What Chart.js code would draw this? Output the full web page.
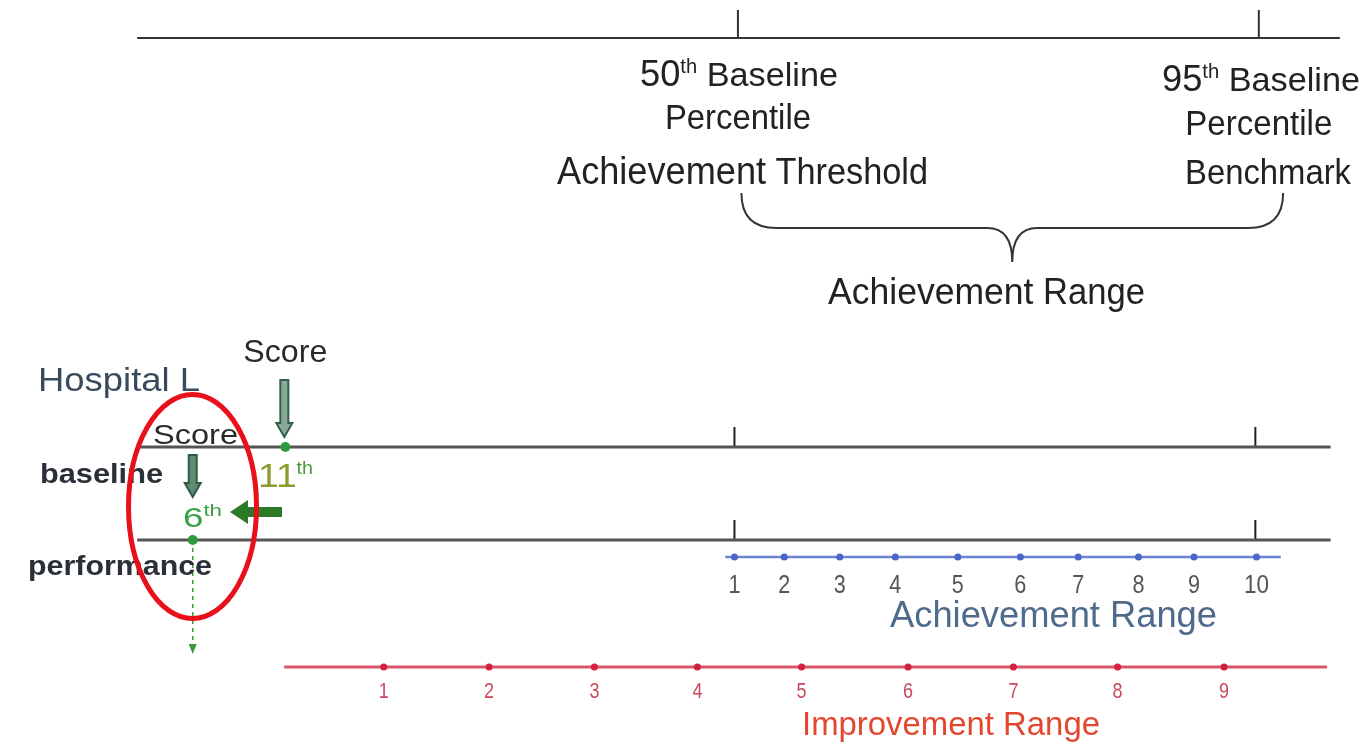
<!DOCTYPE html>
<html lang="en">
<head>
  <meta charset="UTF-8">
  <title>Achievement and Improvement Range</title>
  <script src="https://cdn.jsdelivr.net/npm/chart.js"></script>
  <style>
    body { margin: 0; background: #fff; }
    canvas { display: block; }
  </style>
</head>
<body>
  <canvas id="diagram" width="1363" height="745"></canvas>

  <script>
    // values (x axis in baseline percentiles)
    const thresholds = [50, 95];
    const lowerTicks = [49.7, 94.7];
    const axisSpan = [-1.9, 102];
    const rowSpan = [-1.9, 101.2];
    const achievementLabels = ['1', '2', '3', '4', '5', '6', '7', '8', '9', '10'];
    const achievementPos = [49.7, 54.0, 58.8, 63.6, 69.0, 74.4, 79.4, 84.6, 89.4, 94.8];
    const achievementSpan = [48.9, 96.9];
    const improvementLabels = ['1', '2', '3', '4', '5', '6', '7', '8', '9'];
    const improvementPos = [19.4, 28.5, 37.6, 46.5, 55.5, 64.7, 73.8, 82.8, 92.0];
    const improvementSpan = [10.8, 100.9];
    const baselineScore = { label: '11', pos: 10.9 };
    const performanceScore = { label: '6', pos: 2.9 };

    // layout rows (vertical position in canvas units)
    const ROW = { tickTop: 10, top: 38, baseline: 447, performance: 540, lowerTick: 20,
                  achievement: 557, improvement: 667, dashEnd: 650 };
    const FONT = '"Liberation Sans", Arial, sans-serif';

    const seg = (x0, x1, y0, y1, color, width, extra) => Object.assign({
      data: [{ x: x0, y: y0 }, { x: x1, y: y1 }],
      showLine: true, borderColor: color, borderWidth: width,
      pointRadius: 0, order: 5
    }, extra || {});

    const datasets = [
      seg(axisSpan[0], axisSpan[1], ROW.top, ROW.top, '#333', 2),
      ...thresholds.map(t => seg(t, t, ROW.tickTop, ROW.top, '#333', 2)),
      seg(rowSpan[0], rowSpan[1], ROW.baseline, ROW.baseline, '#555', 3),
      seg(rowSpan[0], rowSpan[1], ROW.performance, ROW.performance, '#555', 3),
      ...lowerTicks.map(t => seg(t, t, ROW.baseline - ROW.lowerTick, ROW.baseline, '#222', 2)),
      ...lowerTicks.map(t => seg(t, t, ROW.performance - ROW.lowerTick, ROW.performance, '#222', 2)),
      seg(achievementSpan[0], achievementSpan[1], ROW.achievement, ROW.achievement, '#6a84d4', 2.5),
      seg(improvementSpan[0], improvementSpan[1], ROW.improvement, ROW.improvement, '#d9566a', 3),
      seg(performanceScore.pos, performanceScore.pos, ROW.performance, ROW.dashEnd, '#3a9a3a', 1.5,
          { borderDash: [4, 4] }),
      {
        data: achievementPos.map(p => ({ x: p, y: ROW.achievement })),
        pointRadius: 3.5, pointBackgroundColor: '#4a66c8', pointBorderWidth: 0, order: 1
      },
      {
        data: improvementPos.map(p => ({ x: p, y: ROW.improvement })),
        pointRadius: 3.5, pointBackgroundColor: '#d4203c', pointBorderWidth: 0, order: 1
      },
      {
        data: [{ x: baselineScore.pos, y: ROW.baseline }, { x: performanceScore.pos, y: ROW.performance }],
        pointRadius: 5, pointBackgroundColor: '#2e9a3e', pointBorderWidth: 0, order: 1
      }
    ];

    // text drawn in parts so superscripts can be placed, squeezed to a given width
    function rich(ctx, parts, x, y, width, align) {
      let total = 0;
      parts.forEach(p => {
        ctx.font = (p.bold ? 'bold ' : '') + p.size + 'px ' + FONT;
        p.w = ctx.measureText(p.t).width;
        total += p.w;
      });
      const s = width ? width / total : 1;
      let left = x;
      if (align === 'center') left = x - total * s / 2;
      ctx.save();
      ctx.translate(left, y);
      ctx.scale(s, 1);
      ctx.textBaseline = 'alphabetic';
      ctx.textAlign = 'left';
      let cx = 0;
      parts.forEach(p => {
        ctx.font = (p.bold ? 'bold ' : '') + p.size + 'px ' + FONT;
        ctx.fillStyle = p.color || '#222';
        ctx.fillText(p.t, cx, p.dy || 0);
        cx += p.w;
      });
      ctx.restore();
    }

    function blockArrowDown(ctx, x, y0, y1, fill, stroke) {
      const sw = 4, hw = 8, hl = 14;
      ctx.beginPath();
      ctx.moveTo(x - sw, y0);
      ctx.lineTo(x + sw, y0);
      ctx.lineTo(x + sw, y1 - hl);
      ctx.lineTo(x + hw, y1 - hl);
      ctx.lineTo(x, y1);
      ctx.lineTo(x - hw, y1 - hl);
      ctx.lineTo(x - sw, y1 - hl);
      ctx.closePath();
      ctx.fillStyle = fill;
      ctx.fill();
      ctx.strokeStyle = stroke;
      ctx.lineWidth = 2;
      ctx.stroke();
    }

    const labels = {
      id: 'labels',
      afterDatasetsDraw(chart) {
        const ctx = chart.ctx;
        const X = v => chart.scales.x.getPixelForValue(v);
        const Y = v => chart.scales.y.getPixelForValue(v);

        // top annotations
        rich(ctx, [{ t: '50', size: 36 }, { t: 'th', size: 20, dy: -13 }, { t: ' Baseline', size: 34 }], 640, 86, 198);
        rich(ctx, [{ t: 'Percentile', size: 35 }], X(thresholds[0]), 129, 146, 'center');
        rich(ctx, [{ t: 'Achievement', size: 38 }, { t: ' Threshold', size: 36 }], 557, 184, 371);
        rich(ctx, [{ t: '95', size: 36 }, { t: 'th', size: 20, dy: -13 }, { t: ' Baseline', size: 34 }], 1162, 91, 198);
        rich(ctx, [{ t: 'Percentile', size: 35 }], X(thresholds[1]), 135, 147, 'center');
        rich(ctx, [{ t: 'Benchmark', size: 35 }], 1185, 184, 166);

        // brace
        const L = X(50.3), R = X(97.1), M = X(73.7);
        ctx.save();
        ctx.strokeStyle = '#333';
        ctx.lineWidth = 2;
        ctx.beginPath();
        ctx.moveTo(L, 193);
        ctx.quadraticCurveTo(L, 228, L + 35, 228);
        ctx.lineTo(M - 25, 228);
        ctx.quadraticCurveTo(M, 228, M, 262);
        ctx.quadraticCurveTo(M, 228, M + 25, 228);
        ctx.lineTo(R - 35, 228);
        ctx.quadraticCurveTo(R, 228, R, 193);
        ctx.stroke();
        ctx.restore();
        rich(ctx, [{ t: 'Achievement', size: 37 }, { t: ' Range', size: 36 }], 828, 304, 317);

        // hospital rows
        rich(ctx, [{ t: 'Hospital L', size: 34, color: '#3a4a5e' }], 38, 391, 162);
        rich(ctx, [{ t: 'Score', size: 32, color: '#2a2a2a' }], X(baselineScore.pos), 362, 84, 'center');
        rich(ctx, [{ t: 'Score', size: 28, color: '#2a2a2a' }], 153, 444, 85);
        rich(ctx, [{ t: 'baseline', size: 28, bold: true, color: '#2a3038' }], 40, 483, 123);
        rich(ctx, [{ t: 'performance', size: 27, bold: true, color: '#2a3038' }], 28, 575, 184);

        blockArrowDown(ctx, X(baselineScore.pos) - 1, 380, 437, '#88a898', '#355f4b');
        blockArrowDown(ctx, X(performanceScore.pos), 455, 497, '#5f8a74', '#2f5a45');

        rich(ctx, [{ t: baselineScore.label, size: 34, color: '#8c9a2e' },
                   { t: 'th', size: 18, dy: -13, color: '#4a9a3a' }], 258, 487, 55);
        rich(ctx, [{ t: performanceScore.label, size: 28, color: '#3aa048' },
                   { t: 'th', size: 17, dy: -11, color: '#3aa048' }], 183, 527, 39);

        // left arrow: drop from baseline to performance
        ctx.save();
        ctx.fillStyle = '#2a7a2a';
        ctx.beginPath();
        ctx.moveTo(282, 507);
        ctx.lineTo(248, 507);
        ctx.lineTo(248, 500);
        ctx.lineTo(230, 512);
        ctx.lineTo(248, 524);
        ctx.lineTo(248, 517);
        ctx.lineTo(282, 517);
        ctx.closePath();
        ctx.fill();

        // head of the dashed arrow
        const dx = X(performanceScore.pos);
        ctx.fillStyle = '#3a9a3a';
        ctx.beginPath();
        ctx.moveTo(dx - 4, Y(ROW.dashEnd) - 6);
        ctx.lineTo(dx + 4, Y(ROW.dashEnd) - 6);
        ctx.lineTo(dx, Y(ROW.dashEnd) + 4);
        ctx.closePath();
        ctx.fill();
        ctx.restore();

        // scale numbers
        achievementLabels.forEach((l, i) => {
          rich(ctx, [{ t: l, size: 25, color: '#555' }], X(achievementPos[i]), 593,
               l.length > 1 ? 25 : 12, 'center');
        });
        rich(ctx, [{ t: 'Achievement Range', size: 37, color: '#4f6b8c' }], 890, 627, 327);

        improvementLabels.forEach((l, i) => {
          rich(ctx, [{ t: l, size: 22, color: '#c84a5a' }], X(improvementPos[i]), 698, 10, 'center');
        });
        rich(ctx, [{ t: 'Improvement Range', size: 34, color: '#e4472f' }], 802, 735, 298);

        // red ellipse around the hospital's scores
        ctx.save();
        ctx.strokeStyle = '#e8101a';
        ctx.lineWidth = 5;
        ctx.beginPath();
        ctx.ellipse(192.5, 506.5, 64, 112, 0, 0, Math.PI * 2);
        ctx.stroke();
        ctx.restore();
      }
    };

    new Chart(document.getElementById('diagram'), {
      type: 'scatter',
      data: { datasets: datasets },
      options: {
        responsive: false,
        animation: false,
        devicePixelRatio: 1,
        layout: { padding: 0, autoPadding: false },
        scales: {
          x: { type: 'linear', min: -13.75, max: 104, display: false },
          y: { type: 'linear', min: 0, max: 745, reverse: true, display: false }
        },
        plugins: {
          legend: { display: false },
          tooltip: { enabled: false }
        }
      },
      plugins: [labels]
    });
  </script>
</body>
</html>
